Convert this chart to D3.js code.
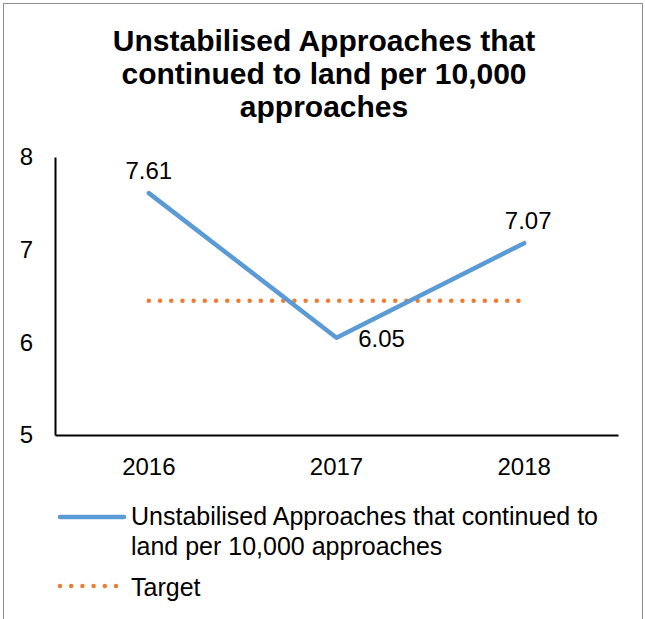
<!DOCTYPE html>
<html>
<head>
<meta charset="utf-8">
<script src="https://cdn.jsdelivr.net/npm/d3@7"></script>
<style>
  html, body { margin: 0; padding: 0; background: #fff; }
  svg { display: block; font-family: "Liberation Sans", Arial, sans-serif; }
</style>
</head>
<body>
<svg id="chart" width="645" height="619"></svg>
<script>
// Chart data
const years = ["2016", "2017", "2018"];
const approachRates = [7.61, 6.05, 7.07];
const targetValues = [6.45, 6.45, 6.45];
const yTicks = [5, 6, 7, 8];
const titleLines = ["Unstabilised Approaches that", "continued to land per 10,000", "approaches"];
const seriesName = ["Unstabilised Approaches that continued to", "land per 10,000 approaches"];
const targetName = "Target";

const svg = d3.select("#chart");
const blue = "#5B9BD5", orange = "#ED7D31";
const font = "Liberation Sans, Arial, sans-serif";

// Outer frame
svg.append("rect")
  .attr("x", 3.5).attr("y", 3.5)
  .attr("width", 639).attr("height", 630)
  .attr("fill", "#fff").attr("stroke", "#8c8c8c").attr("stroke-width", 1);

// Title
svg.append("text")
  .attr("text-anchor", "middle")
  .attr("font-weight", "bold").attr("font-size", 30)
  .selectAll("tspan").data(titleLines).join("tspan")
  .attr("x", 324).attr("y", (d, i) => 51 + i * 33)
  .text(d => d);

// Scales
const plot = { left: 55, right: 618, top: 157, bottom: 435 };
const x = d3.scaleBand().domain(years).range([plot.left, plot.right]);
const y = d3.scaleLinear().domain([5, 8]).range([plot.bottom, plot.top]);
const cx = d => x(d) + x.bandwidth() / 2;

// Y axis
const yAxis = svg.append("g")
  .attr("transform", `translate(${plot.left},0)`)
  .call(d3.axisLeft(y).tickValues(yTicks).tickSize(0).tickPadding(22).tickFormat(d3.format("d")));
yAxis.select(".domain").attr("stroke", "#000").attr("stroke-width", 2);
yAxis.selectAll("text").attr("font-size", 24).attr("fill", "#000").attr("font-family", font);

// X axis
const xAxis = svg.append("g")
  .attr("transform", `translate(0,${plot.bottom})`)
  .call(d3.axisBottom(x).tickSize(0).tickPadding(23));
xAxis.select(".domain").attr("stroke", "#000").attr("stroke-width", 2);
xAxis.selectAll("text").attr("font-size", 24).attr("fill", "#000").attr("font-family", font);

// Target line (dotted)
const line = d3.line().x((d, i) => cx(years[i])).y(d => y(d));
svg.append("path")
  .datum(targetValues)
  .attr("d", line)
  .attr("fill", "none").attr("stroke", orange)
  .attr("stroke-width", 4.5).attr("stroke-linecap", "round")
  .attr("stroke-dasharray", "0 11.2");

// Series line
svg.append("path")
  .datum(approachRates)
  .attr("d", line)
  .attr("fill", "none").attr("stroke", blue)
  .attr("stroke-width", 4.5).attr("stroke-linejoin", "round").attr("stroke-linecap", "round");

// Data labels
const labelOffsets = [{ dx: 0, dy: -14 }, { dx: 45, dy: 9 }, { dx: 4, dy: -14 }];
svg.append("g").selectAll("text").data(approachRates).join("text")
  .attr("x", (d, i) => cx(years[i]) + labelOffsets[i].dx)
  .attr("y", (d, i) => y(d) + labelOffsets[i].dy)
  .attr("text-anchor", "middle").attr("font-size", 24)
  .text(d => d.toFixed(2));

// Legend
const lg = svg.append("g");
lg.append("line").attr("x1", 60).attr("x2", 124).attr("y1", 517).attr("y2", 517)
  .attr("stroke", blue).attr("stroke-width", 4.5).attr("stroke-linecap", "round");
lg.append("text").attr("font-size", 25)
  .selectAll("tspan").data(seriesName).join("tspan")
  .attr("x", 131).attr("y", (d, i) => 525 + i * 30)
  .text(d => d);
lg.append("line").attr("x1", 60).attr("x2", 122).attr("y1", 586).attr("y2", 586)
  .attr("stroke", orange).attr("stroke-width", 4.5).attr("stroke-linecap", "round")
  .attr("stroke-dasharray", "0 11.2");
lg.append("text").attr("font-size", 25).attr("x", 131).attr("y", 596).text(targetName);
</script>
</body>
</html>
